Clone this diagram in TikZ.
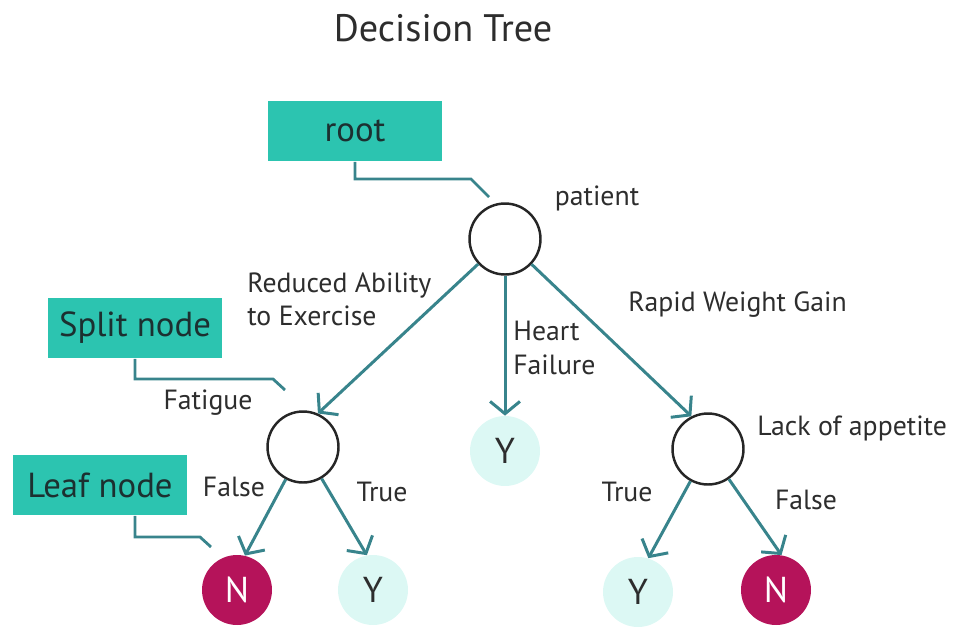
\documentclass[tikz,border=0pt]{standalone}
\usepackage{fontspec}
\setmainfont{PT Sans}
\usetikzlibrary{arrows.meta,positioning}

\definecolor{boxteal}{RGB}{44,196,176}
\definecolor{boxink}{RGB}{28,48,48}
\definecolor{linkteal}{RGB}{56,132,140}
\definecolor{leafno}{RGB}{181,19,90}
\definecolor{leafyes}{RGB}{220,248,244}
\definecolor{inkgray}{RGB}{45,45,45}

\begin{document}
\begin{tikzpicture}[x=0.02cm, y=-0.02cm,
		lbl/.style={inner sep=0pt, text=inkgray, font=\fontsize{15.8}{19}\selectfont},
		tag/.style={fill=boxteal, text=boxink, minimum width=3.5cm, minimum height=1.22cm, font=\fontsize{19.8}{22}\selectfont},
		split/.style={circle, draw=black!85, line width=1.4pt, minimum size=1.42cm},
		leafN/.style={circle, fill=leafno, text=white, minimum size=1.4cm, font=\fontsize{20.5}{22}\selectfont},
		leafY/.style={circle, fill=leafyes, text=inkgray, minimum size=1.4cm, font=\fontsize{20.5}{22}\selectfont},
		link/.style={draw=linkteal, line width=1.7pt, -{Straight Barb[length=7pt,width=17pt]}},
		callout/.style={draw=linkteal, line width=1.6pt}]
		\useasboundingbox (0,0) rectangle (953,635);
		
		% Define nodes
		\node[text=inkgray, font=\fontsize{21.8}{24}\selectfont] (title) at (443,28) {Decision Tree};
		\node[tag] (rootbox) at (355,131) {root};
		\node[tag] (splitbox) at (135,328) {Split node};
		\node[tag] (leafbox) at (100,485) {Leaf node};
		
		\node[split] (patient) at (505,239) {};
		\node[split] (fatigue) at (303,447) {};
		\node[split] (appetite) at (708,449) {};
		\node[leafY] (heart) at (505,451) {Y};
		\node[leafN] (fatN) at (237,590) {N};
		\node[leafY] (fatY) at (373,590) {Y};
		\node[leafY] (appY) at (638,592) {Y};
		\node[leafN] (appN) at (776,590) {N};
		
		% Labels
		\node[lbl] (lpatient) at (597,198) {patient};
		\node[lbl, anchor=west, align=left] (lreduced) at (247,299) {Reduced Ability\\to Exercise};
		\node[lbl, anchor=west, align=left] (lheart) at (513,348) {Heart\\Failure};
		\node[lbl, anchor=west] (lrapid) at (628,305) {Rapid Weight Gain};
		\node[lbl, anchor=west] (lappetite) at (757,428) {Lack of appetite};
		\node[lbl] (lfatigue) at (208,403) {Fatigue};
		\node[lbl] (lfalse1) at (234,487) {False};
		\node[lbl] (ltrue1) at (382,492) {True};
		\node[lbl] (ltrue2) at (627,492) {True};
		\node[lbl] (lfalse2) at (806,500) {False};
		
		% Callout ends
		\coordinate (rootpt) at (489,197);
		\coordinate (splitpt) at (285,390);
		\coordinate (leafpt) at (211,547);
		
		% Draw callouts
		\draw[callout] (rootbox.south) |- (471,179) -- (rootpt);
		\draw[callout] (splitbox.south) |- (273,379) -- (splitpt);
		\draw[callout] ([xshift=0.7cm]leafbox.south) |- (200,537) -- (leafpt);
		
		% Draw arrows
		\draw[link] (patient) -- (fatigue.66);
		\draw[link] (patient) -- (heart);
		\draw[link] (patient) -- (appetite.117);
		\draw[link] (fatigue) -- (fatN.77);
		\draw[link] (fatigue) -- (fatY.100);
		\draw[link] (appetite) -- (appY.73);
		\draw[link] (appetite) -- (appN.81);
	\end{tikzpicture}
\end{document}
